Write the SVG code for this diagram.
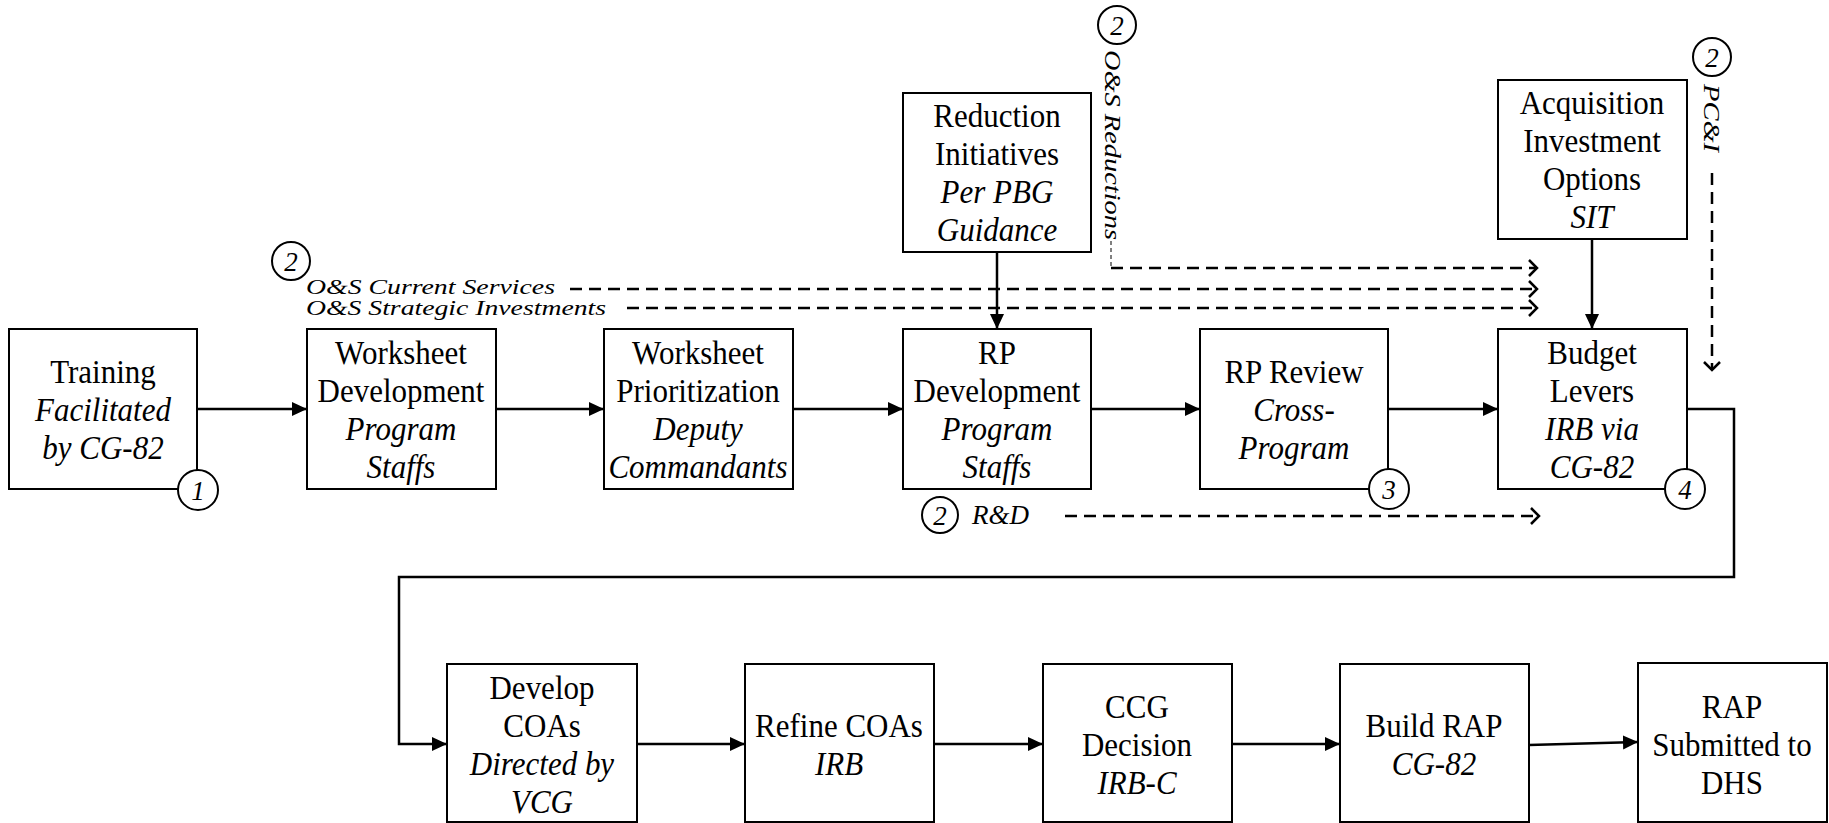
<svg xmlns="http://www.w3.org/2000/svg" width="1829" height="823" viewBox="0 0 1829 823" font-family="'Liberation Serif', 'Times New Roman', Times, serif">
  <style>
    .box { fill: #fff; stroke: #000; stroke-width: 2; }
    text { font-family: "Liberation Serif", "Times New Roman", Times, serif; fill: #000; }
    .t { font-size: 31px; text-anchor: middle; transform-box: fill-box; transform-origin: center; transform: scaleY(1.1); }
    .i { font-style: italic; }
    .lbl { font-style: italic; font-size: 21px; }
    .num { font-style: italic; font-size: 27px; text-anchor: middle; }
    .badge { fill: #fff; stroke: #000; stroke-width: 2; }
    .flow { fill: none; stroke: #000; stroke-width: 2.5; }
    .dash { fill: none; stroke: #000; stroke-width: 2.5; stroke-dasharray: 12 7; }
    .thin { fill: none; stroke: #000; stroke-width: 1; stroke-dasharray: 4 3; }
  </style>
  <defs>
    <marker id="arrow" markerUnits="userSpaceOnUse" markerWidth="16" markerHeight="16" refX="15" refY="7" orient="auto">
      <path d="M0,0 L15,7 L0,14 z" fill="#000"/>
    </marker>
    <marker id="chevron" markerUnits="userSpaceOnUse" markerWidth="14" markerHeight="20" refX="10" refY="9" orient="auto" overflow="visible">
      <path d="M2,1 L10,9 L2,17" fill="none" stroke="#000" stroke-width="2.5"/>
    </marker>
  </defs>

  <rect width="1829" height="823" fill="#fff"/>

  <!-- connectors -->
  <g id="connectors">
    <line class="flow" x1="197" y1="409" x2="307" y2="409" marker-end="url(#arrow)"/>
    <line class="flow" x1="496" y1="409" x2="604" y2="409" marker-end="url(#arrow)"/>
    <line class="flow" x1="793" y1="409" x2="903" y2="409" marker-end="url(#arrow)"/>
    <line class="flow" x1="1091" y1="409" x2="1200" y2="409" marker-end="url(#arrow)"/>
    <line class="flow" x1="1388" y1="409" x2="1498" y2="409" marker-end="url(#arrow)"/>
    <line class="flow" x1="997" y1="252" x2="997" y2="329" marker-end="url(#arrow)"/>
    <line class="flow" x1="1592" y1="239" x2="1592" y2="329" marker-end="url(#arrow)"/>
    <polyline class="flow" points="1687,409 1734,409 1734,577 399,577 399,744 447,744" marker-end="url(#arrow)"/>
    <line class="flow" x1="637" y1="744" x2="745" y2="744" marker-end="url(#arrow)"/>
    <line class="flow" x1="934" y1="744" x2="1043" y2="744" marker-end="url(#arrow)"/>
    <line class="flow" x1="1232" y1="744" x2="1340" y2="744" marker-end="url(#arrow)"/>
    <line class="flow" x1="1529" y1="745" x2="1638" y2="742" marker-end="url(#arrow)"/>

    <!-- funding inputs -->
    <line class="dash" x1="570" y1="289" x2="1537" y2="289" marker-end="url(#chevron)"/>
    <line class="dash" x1="627" y1="308" x2="1537" y2="308" marker-end="url(#chevron)"/>
    <polyline class="thin" points="1111,241 1111,268"/>
    <line class="dash" x1="1111" y1="268" x2="1537" y2="268" marker-end="url(#chevron)"/>
    <line class="dash" x1="1065" y1="516" x2="1539" y2="516" marker-end="url(#chevron)"/>
    <line class="dash" x1="1712" y1="173" x2="1712" y2="370" marker-end="url(#chevron)"/>
  </g>

  <!-- funding labels -->
  <g id="label-os-services">
    <circle class="badge" cx="291" cy="261" r="19"/>
    <text class="num" x="291" y="271">2</text>
    <text class="lbl" x="306" y="294" textLength="249" lengthAdjust="spacingAndGlyphs">O&amp;S Current Services</text>
    <text class="lbl" x="306" y="315" textLength="300" lengthAdjust="spacingAndGlyphs">O&amp;S Strategic Investments</text>
  </g>
  <g id="label-os-reductions">
    <circle class="badge" cx="1117" cy="25" r="19"/>
    <text class="num" x="1117" y="35">2</text>
    <text class="lbl" transform="translate(1105,50) rotate(90)" x="0" y="0" style="font-size:24px" textLength="190" lengthAdjust="spacingAndGlyphs">O&amp;S Reductions</text>
  </g>
  <g id="label-pci">
    <circle class="badge" cx="1712" cy="57" r="19"/>
    <text class="num" x="1712" y="67">2</text>
    <text class="lbl" transform="translate(1704,84) rotate(90)" x="0" y="0" style="font-size:24px" textLength="68" lengthAdjust="spacingAndGlyphs">PC&amp;I</text>
  </g>
  <g id="label-rd">
    <circle class="badge" cx="940" cy="515" r="18"/>
    <text class="num" x="940" y="525">2</text>
    <text class="lbl" x="972" y="524" style="font-size:27px">R&amp;D</text>
  </g>

  <!-- top row -->
  <g id="training">
    <rect class="box" x="9" y="329" width="188" height="160"/>
    <text class="t" x="103" y="382">Training</text>
    <text class="t i" x="103" y="420">Facilitated</text>
    <text class="t i" x="103" y="458">by CG-82</text>
    <circle class="badge" cx="198" cy="490" r="20"/>
    <text class="num" x="198" y="500">1</text>
  </g>
  <g id="worksheet-development">
    <rect class="box" x="307" y="329" width="189" height="160"/>
    <text class="t" x="401" y="363">Worksheet</text>
    <text class="t" x="401" y="401">Development</text>
    <text class="t i" x="401" y="439">Program</text>
    <text class="t i" x="401" y="477">Staffs</text>
  </g>
  <g id="worksheet-prioritization">
    <rect class="box" x="604" y="329" width="189" height="160"/>
    <text class="t" x="698" y="363">Worksheet</text>
    <text class="t" x="698" y="401">Prioritization</text>
    <text class="t i" x="698" y="439">Deputy</text>
    <text class="t i" x="698" y="477">Commandants</text>
  </g>
  <g id="reduction-initiatives">
    <rect class="box" x="903" y="93" width="188" height="159"/>
    <text class="t" x="997" y="126">Reduction</text>
    <text class="t" x="997" y="164">Initiatives</text>
    <text class="t i" x="997" y="202">Per PBG</text>
    <text class="t i" x="997" y="240">Guidance</text>
  </g>
  <g id="rp-development">
    <rect class="box" x="903" y="329" width="188" height="160"/>
    <text class="t" x="997" y="363">RP</text>
    <text class="t" x="997" y="401">Development</text>
    <text class="t i" x="997" y="439">Program</text>
    <text class="t i" x="997" y="477">Staffs</text>
  </g>
  <g id="rp-review">
    <rect class="box" x="1200" y="329" width="188" height="160"/>
    <text class="t" x="1294" y="382">RP Review</text>
    <text class="t i" x="1294" y="420">Cross-</text>
    <text class="t i" x="1294" y="458">Program</text>
    <circle class="badge" cx="1389" cy="489" r="20"/>
    <text class="num" x="1389" y="499">3</text>
  </g>
  <g id="acquisition-investment-options">
    <rect class="box" x="1498" y="80" width="189" height="159"/>
    <text class="t" x="1592" y="113">Acquisition</text>
    <text class="t" x="1592" y="151">Investment</text>
    <text class="t" x="1592" y="189">Options</text>
    <text class="t i" x="1592" y="227">SIT</text>
  </g>
  <g id="budget-levers">
    <rect class="box" x="1498" y="329" width="189" height="160"/>
    <text class="t" x="1592" y="363">Budget</text>
    <text class="t" x="1592" y="401">Levers</text>
    <text class="t i" x="1592" y="439">IRB via</text>
    <text class="t i" x="1592" y="477">CG-82</text>
    <circle class="badge" cx="1685" cy="489" r="20"/>
    <text class="num" x="1685" y="499">4</text>
  </g>

  <!-- bottom row -->
  <g id="develop-coas">
    <rect class="box" x="447" y="664" width="190" height="158"/>
    <text class="t" x="542" y="698">Develop</text>
    <text class="t" x="542" y="736">COAs</text>
    <text class="t i" x="542" y="774">Directed by</text>
    <text class="t i" x="542" y="812">VCG</text>
  </g>
  <g id="refine-coas">
    <rect class="box" x="745" y="664" width="189" height="158"/>
    <text class="t" x="839" y="736">Refine COAs</text>
    <text class="t i" x="839" y="774">IRB</text>
  </g>
  <g id="ccg-decision">
    <rect class="box" x="1043" y="664" width="189" height="158"/>
    <text class="t" x="1137" y="717">CCG</text>
    <text class="t" x="1137" y="755">Decision</text>
    <text class="t i" x="1137" y="793">IRB-C</text>
  </g>
  <g id="build-rap">
    <rect class="box" x="1340" y="664" width="189" height="158"/>
    <text class="t" x="1434" y="736">Build RAP</text>
    <text class="t i" x="1434" y="774">CG-82</text>
  </g>
  <g id="rap-submitted">
    <rect class="box" x="1638" y="663" width="189" height="159"/>
    <text class="t" x="1732" y="717">RAP</text>
    <text class="t" x="1732" y="755">Submitted to</text>
    <text class="t" x="1732" y="793">DHS</text>
  </g>
</svg>
